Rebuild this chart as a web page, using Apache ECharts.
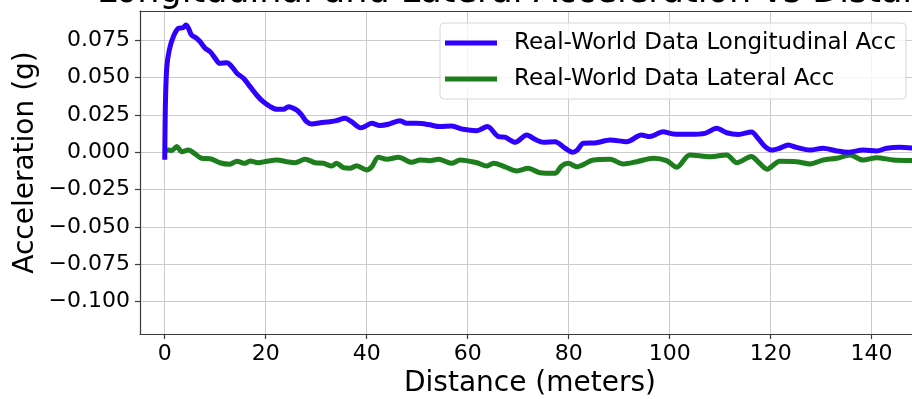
<!DOCTYPE html>
<html>
<head>
<meta charset="utf-8">
<script src="https://cdn.jsdelivr.net/npm/echarts@6/dist/echarts.min.js"></script>
<style>
html, body { margin: 0; padding: 0; background: #fff; }
#chart { width: 912px; height: 399px; }
</style>
</head>
<body>
<div id="chart"></div>
<script>
var FONT = 'DejaVu Sans';

// longitudinal acc: distance (m) / value (g)
var longDist = [0, 0.05, 0.15, 0.4, 0.9, 1.7, 2.7, 3.6, 4.2, 4.7, 5.3, 6.3, 7.0, 8.0, 9.0, 10.0, 10.9, 12.3, 13.3, 14.3,
    15.6, 16.9, 18.2, 19.5, 20.9, 22.2, 23.5, 24.5, 26.1, 27.1, 28.1, 29.1, 30.8, 32.7, 34.0, 35.7, 37.0, 38.7, 39.3, 41.0,
    42.6, 44.3, 46.6, 47.9, 49.9, 52.2, 54.5, 56.8, 59.1, 61.8, 63.9, 66.1, 67.4, 69.4, 71.7, 73.3, 75.0, 77.3, 79.3, 80.8,
    81.7, 82.9, 85.5, 88.2, 91.5, 94.4, 96.1, 98.7, 100.7, 104.0, 107.0, 109.3, 111.3, 113.6, 116.2, 117.5, 118.9, 120.2, 121.8, 123.5,
    125.1, 127.8, 130.4, 133.1, 135.4, 138.3, 141.0, 143.0, 145.6, 148.5];
var longAcc = [-0.005, 0.012, 0.035, 0.057, 0.0686, 0.0775, 0.0831, 0.0835, 0.0853, 0.0831, 0.0786, 0.0764, 0.0741, 0.0697, 0.0674, 0.063, 0.0596, 0.060, 0.0574, 0.053,
    0.0496, 0.044, 0.0384, 0.0339, 0.0306, 0.0288, 0.0288, 0.0306, 0.0284, 0.025, 0.0205, 0.019, 0.0198, 0.0205, 0.0212, 0.0228, 0.0205, 0.0165, 0.0168, 0.0194,
    0.018, 0.0188, 0.0212, 0.0194, 0.0194, 0.0186, 0.0172, 0.0176, 0.0154, 0.0145, 0.0172, 0.0105, 0.0101, 0.0067, 0.0116, 0.0087, 0.0067, 0.0071, 0.0027, 0.0,
    0.0015, 0.006, 0.0064, 0.0082, 0.0071, 0.0116, 0.0105, 0.0138, 0.0123, 0.0121, 0.0127, 0.0161, 0.0131, 0.012, 0.0136, 0.0094, 0.0038, 0.0015, 0.0027, 0.0049,
    0.0033, 0.0015, 0.0027, 0.0009, 0.0, 0.0015, 0.0009, 0.0027, 0.0033, 0.0027];

// lateral acc
var latDist = [0, 0.7, 1.4, 2.4, 3.4, 4.7, 6.0, 7.3, 9.0, 10.9, 12.9, 14.3, 15.9, 16.9, 18.5, 20.2, 22.2, 24.2, 25.8, 27.8,
    29.8, 31.4, 33.1, 34.0, 35.4, 36.7, 38.0, 40.0, 41.0, 42.3, 44.0, 46.3, 48.9, 50.6, 52.5, 54.2, 56.8, 58.5, 61.8, 63.8,
    65.1, 67.4, 69.7, 72.0, 74.3, 77.3, 78.6, 79.9, 81.6, 84.9, 88.2, 90.8, 93.5, 96.8, 99.4, 101.4, 104.0, 108.0, 111.3, 113.3,
    116.2, 117.5, 119.3, 121.8, 125.1, 127.8, 130.4, 133.1, 135.7, 138.3, 141.0, 144.3, 148.5];
var latAcc = [0.0004, 0.0015, 0.0012, 0.0038, 0.0004, 0.0015, -0.0011, -0.004, -0.0043, -0.007, -0.008, -0.006, -0.0074, -0.0058, -0.007, -0.006, -0.0052, -0.0063, -0.007, -0.0047,
    -0.007, -0.0074, -0.0092, -0.0074, -0.0103, -0.0107, -0.009, -0.0119, -0.0097, -0.0034, -0.0047, -0.0033, -0.0067, -0.0052, -0.0056, -0.0047, -0.0074, -0.0052, -0.007, -0.0092,
    -0.0074, -0.0097, -0.0125, -0.0107, -0.0137, -0.0141, -0.0092, -0.0074, -0.0097, -0.0052, -0.0047, -0.0078, -0.0063, -0.004, -0.0056, -0.01, -0.0018, -0.003, -0.0018, -0.007,
    -0.0028, -0.0063, -0.0113, -0.006, -0.0063, -0.0078, -0.0052, -0.004, -0.0018, -0.0052, -0.0036, -0.0052, -0.0056];

var seriesNames = ['Real-World Data Longitudinal Acc', 'Real-World Data Lateral Acc'];

function pairs(xs, ys) {
    var out = [];
    for (var i = 0; i < xs.length; i++) {
        out.push([xs[i], ys[i]]);
    }
    return out;
}

function fmtY(v) {
    var r = Math.round(v * 1000) / 1000;
    return (r < 0 ? '\u2212' : '') + Math.abs(r).toFixed(3);
}

var spine = {color: '#3a3a3a', width: 1.2};
var gridLine = {show: true, lineStyle: {color: '#cbcbcb', width: 1}};

var chart = echarts.init(document.getElementById('chart'));
chart.setOption({
    animation: false,
    title: {
        text: 'Longitudinal and Lateral Acceleration vs Distance',
        left: 97,
        top: -25,
        padding: 0,
        textStyle: {fontFamily: FONT, fontSize: 35, fontWeight: 'normal', color: '#000'}
    },
    legend: {
        orient: 'vertical',
        left: 440,
        top: 23,
        padding: [8, 10, 8, 5],
        itemGap: 12,
        itemWidth: 52,
        itemHeight: 5,
        icon: 'rect',
        backgroundColor: 'rgba(255,255,255,0.8)',
        borderColor: '#d6d6d6',
        borderWidth: 1,
        borderRadius: 4,
        textStyle: {fontFamily: FONT, fontSize: 23, color: '#000', lineHeight: 24, padding: [0, 0, 0, 12]},
        data: seriesNames
    },
    grid: {
        left: 140,
        top: 11,
        right: 0,
        bottom: 65
    },
    xAxis: [{
        type: 'value',
        min: -4.9,
        max: 148,
        minInterval: 20,
        maxInterval: 20,
        axisLine: {show: true, onZero: false, lineStyle: spine},
        axisTick: {show: true, length: 5, lineStyle: spine},
        axisLabel: {fontFamily: FONT, fontSize: 22, color: '#000', margin: 9, showMinLabel: false, showMaxLabel: false},
        splitLine: gridLine
    }, {
        type: 'value',
        position: 'top',
        min: -4.9,
        max: 148,
        axisLine: {show: true, onZero: false, lineStyle: spine},
        axisTick: {show: false},
        axisLabel: {show: false},
        splitLine: {show: false}
    }],
    yAxis: {
        type: 'value',
        min: -0.1218,
        max: 0.0947,
        minInterval: 0.025,
        maxInterval: 0.025,
        axisLine: {show: true, onZero: false, lineStyle: spine},
        axisTick: {show: true, length: 5, lineStyle: spine},
        axisLabel: {fontFamily: FONT, fontSize: 22, color: '#000', margin: 10, showMinLabel: false, showMaxLabel: false, formatter: fmtY},
        splitLine: gridLine
    },
    graphic: [{
        type: 'text',
        x: 26,
        y: 162.5,
        rotation: Math.PI / 2,
        style: {text: 'Acceleration (g)', fontFamily: FONT, fontSize: 28, fill: '#000',
            align: 'center', verticalAlign: 'middle', textAlign: 'center', textVerticalAlign: 'middle'}
    }, {
        type: 'text',
        x: 530,
        y: 384,
        style: {text: 'Distance (meters)', fontFamily: FONT, fontSize: 28, fill: '#000',
            align: 'center', verticalAlign: 'middle', textAlign: 'center', textVerticalAlign: 'middle'}
    }],
    series: [{
        name: seriesNames[0],
        type: 'line',
        data: pairs(longDist, longAcc),
        showSymbol: false,
        smooth: 0.3,
        color: '#3000ff',
        lineStyle: {width: 5, color: '#3000ff'},
        z: 3
    }, {
        name: seriesNames[1],
        type: 'line',
        data: pairs(latDist, latAcc),
        showSymbol: false,
        smooth: 0.3,
        color: '#1e7e1e',
        lineStyle: {width: 5, color: '#1e7e1e'},
        z: 2
    }]
});
</script>
</body>
</html>
